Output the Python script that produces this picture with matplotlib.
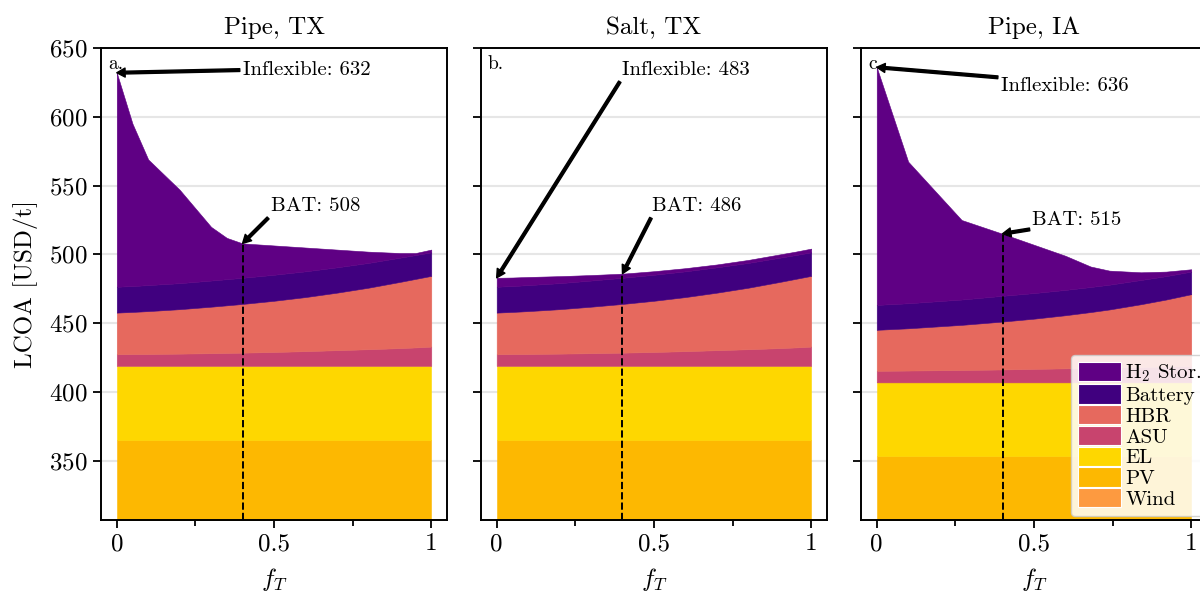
import numpy as np
import matplotlib
matplotlib.use('Agg')
import matplotlib.pyplot as plt

plt.rcParams['font.family'] = ['cmr10', 'DejaVu Serif']
plt.rcParams['mathtext.fontset'] = 'cm'
plt.rcParams['axes.formatter.use_mathtext'] = True

# x grid (f_T) for the Texas cases and the Iowa case
x_tx = [0, 0.05, 0.1, 0.2, 0.3, 0.35, 0.4, 0.5, 0.6, 0.7, 0.8, 0.9, 0.95, 1.0]
x_ia = [0, 0.1, 0.27, 0.4, 0.5, 0.6, 0.68, 0.74, 0.84, 0.92, 1.0]

labels = ['Wind', 'PV', 'EL', 'ASU', 'HBR', 'Battery', 'H$_2$ Stor.']
colors = ['#fd9a40', '#fdb801', '#fed700', '#c8446e', '#e6695e', '#40007f', '#5f0084']

# Pipe, TX  (USD/t)
wind_tx = [0, 0, 0, 0, 0, 0, 0, 0, 0, 0, 0, 0, 0, 0]
pv_tx = [365, 365, 365, 365, 365, 365, 365, 365, 365, 365, 365, 365, 365, 365]
el_tx = [54, 54, 54, 54, 54, 54, 54, 54, 54, 54, 54, 54, 54, 54]
asu_tx = [8.5, 8.55, 8.6, 8.9, 9.2, 9.4, 9.6, 10.1, 10.7, 11.4, 12.1, 12.9, 13.4, 14.0]
hbr_tx = [30.2, 30.65, 31.2, 32.3, 33.8, 34.6, 35.4, 37.2, 39.3, 41.8, 44.7, 48.1, 49.8, 51.4]
bat_tx = [18.8, 18.8, 18.9, 18.9, 19.0, 19.0, 19.0, 18.9, 18.7, 18.4, 18.0, 17.6, 17.3, 17.1]
h2_pipe_tx = [155.5, 118.0, 91.3, 67.9, 39.0, 30.0, 25.0, 21.3, 17.3, 12.9, 8.2, 3.4, 1.5, 2.0]
# Salt, TX (same lower stack, different storage)
h2_salt_tx = [6.5, 6.2, 5.9, 5.1, 4.0, 3.5, 3.0, 2.6, 2.3, 2.1, 2.2, 2.4, 2.5, 2.7]

# Pipe, IA
wind_ia = [0, 0, 0, 0, 0, 0, 0, 0, 0, 0, 0]
pv_ia = [353.5, 353.5, 353.5, 353.5, 353.5, 353.5, 353.5, 353.5, 353.5, 353.5, 353.5]
el_ia = [53.5, 53.5, 53.5, 53.5, 53.5, 53.5, 53.5, 53.5, 53.5, 53.5, 53.5]
asu_ia = [8.4, 8.6, 9.0, 9.4, 9.8, 10.2, 10.5, 10.8, 11.2, 11.6, 12.0]
hbr_ia = [29.8, 30.7, 32.8, 34.8, 36.5, 38.6, 40.6, 42.2, 45.6, 48.6, 52.1]
bat_ia = [18.1, 18.2, 18.4, 18.7, 18.6, 18.4, 18.2, 18.0, 17.6, 17.0, 16.4]
h2_ia = [172.7, 102.9, 57.8, 45.1, 35.1, 24.8, 14.9, 10.2, 5.6, 3.3, 1.7]

titles = ['Pipe, TX', 'Salt, TX', 'Pipe, IA']
letters = ['a.', 'b.', 'c.']
inflex = [632, 483, 636]
bat = [508, 486, 515]
inflex_text = [(0.4, 634), (0.397, 634), (0.394, 622)]
bat_text = [(0.49, 535), (0.495, 535), (0.495, 525)]

stacks = [
    (x_tx, [wind_tx, pv_tx, el_tx, asu_tx, hbr_tx, bat_tx, h2_pipe_tx]),
    (x_tx, [wind_tx, pv_tx, el_tx, asu_tx, hbr_tx, bat_tx, h2_salt_tx]),
    (x_ia, [wind_ia, pv_ia, el_ia, asu_ia, hbr_ia, bat_ia, h2_ia]),
]

fig = plt.figure(figsize=(12, 5.94), dpi=100)
lefts = [0.0842, 0.4008, 0.7175]
ymin = 307
axes = []
for i in range(3):
    ax = fig.add_axes([lefts[i], 0.1246, 0.2883, 0.7946])
    axes.append(ax)
    xs, ys = stacks[i]
    polys = ax.stackplot(xs, ys, labels=labels, colors=colors, zorder=2)
    for p, c in zip(polys, colors):
        p.set_edgecolor(c)
        p.set_linewidth(0.4)
    ax.set_ylim(ymin, 650)
    ax.set_xlim(-0.05, 1.05)
    ax.set_yticks([350, 400, 450, 500, 550, 600, 650])
    ax.yaxis.grid(True, color='#e6e6e6', lw=1.5, zorder=0)
    ax.set_axisbelow(True)
    ax.set_xticks([0, 0.5, 1])
    ax.set_xticklabels(['0', '0.5', '1'])
    ax.set_xticks([0.25, 0.75], minor=True)
    ax.tick_params(labelsize=18, width=1.3, length=6)
    ax.tick_params(which='minor', width=1.3, length=4)
    for s in ax.spines.values():
        s.set_linewidth(1.4)
    if i > 0:
        ax.set_yticklabels([])
    else:
        ax.set_ylabel('LCOA [USD/t]', fontsize=18, labelpad=8)
    ax.set_xlabel('$f_T$', fontsize=18, labelpad=8)
    ax.set_title(titles[i], fontsize=18, pad=10)
    ax.text(0.02, 0.985, letters[i], transform=ax.transAxes, fontsize=14, va='top', ha='left')

    ax.plot([0.4, 0.4], [ymin, bat[i]], color='black', ls='--', lw=1.4, zorder=3)
    arr = dict(facecolor='black', edgecolor='black', width=2.0, headwidth=6.5, headlength=6, shrink=0)
    ax.annotate('Inflexible: %d' % inflex[i], xy=(0, inflex[i]), xytext=inflex_text[i],
                fontsize=15, va='center', ha='left', arrowprops=arr, zorder=5)
    ax.annotate('BAT: %d' % bat[i], xy=(0.4, bat[i]), xytext=bat_text[i],
                fontsize=15, va='center', ha='left', arrowprops=arr, zorder=5)

h, l = axes[2].get_legend_handles_labels()
leg = axes[2].legend(h[::-1], l[::-1], loc='lower left', bbox_to_anchor=(0.606, 0.008),
                     borderaxespad=0, fontsize=15, labelspacing=0.0, handleheight=1.05,
                     handlelength=2.07, handletextpad=0.2, borderpad=0.35, framealpha=0.85)
for p in leg.get_patches():
    p.set_edgecolor('white')
    p.set_linewidth(0.8)

fig.savefig('out.png', dpi=100)
